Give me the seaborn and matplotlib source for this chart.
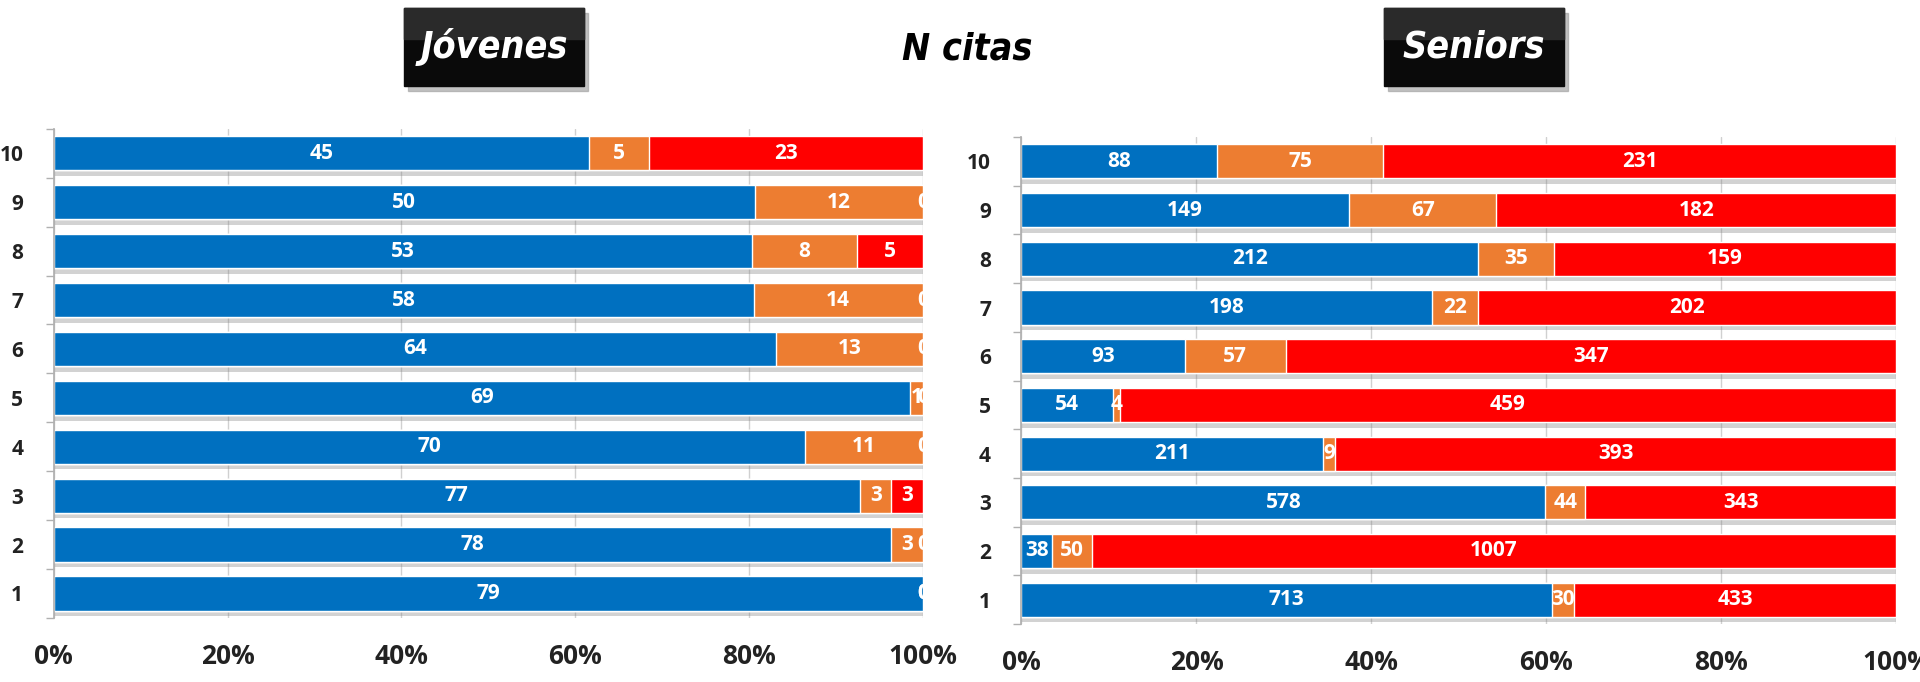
import numpy as np
import pandas as pd
import matplotlib
matplotlib.use("Agg")
import matplotlib.pyplot as plt
import matplotlib.patheffects as pe
from matplotlib.patches import Rectangle
from matplotlib.ticker import FuncFormatter, FixedLocator
import seaborn as sns

# datos
categorias = ["10", "9", "8", "7", "6", "5", "4", "3", "2", "1"]
jovenes_azul = [45, 50, 53, 58, 64, 69, 70, 77, 78, 79]
jovenes_naranja = [5, 12, 8, 14, 13, 1, 11, 3, 3, 0]
jovenes_rojo = [23, 0, 5, 0, 0, 0, 0, 3, 0, 0]
seniors_azul = [88, 149, 212, 198, 93, 54, 211, 578, 38, 713]
seniors_naranja = [75, 67, 35, 22, 57, 4, 9, 44, 50, 30]
seniors_rojo = [231, 182, 159, 202, 347, 459, 393, 343, 1007, 433]
ticks_pct = [0, 20, 40, 60, 80, 100]

AZUL = "#0070C0"
NARANJA = "#ED7D31"
ROJO = "#FF0000"

sns.set_theme(style="white")
plt.rcParams['font.family'] = ['Open Sans', 'DejaVu Sans']
plt.rcParams['font.weight'] = 'bold'


def dibujar_panel(ax, azul, naranja, rojo):
    df = pd.DataFrame({"cat": categorias, "azul": azul, "naranja": naranja, "rojo": rojo})
    total = df[["azul", "naranja", "rojo"]].sum(axis=1)
    df["p_azul"] = df["azul"] / total * 100
    df["p_naranja"] = df["naranja"] / total * 100
    df["p_rojo"] = df["rojo"] / total * 100
    df["c1"] = df["p_azul"]
    df["c2"] = df["p_azul"] + df["p_naranja"]
    df["c3"] = df["c2"] + df["p_rojo"]

    sombra = [pe.SimplePatchShadow(offset=(0, -4), shadow_rgbFace="#808080", alpha=0.35), pe.Normal()]
    for col, color in [("c3", ROJO), ("c2", NARANJA), ("c1", AZUL)]:
        sns.barplot(data=df, x=col, y="cat", order=categorias, orient="h", color=color,
                    saturation=1, width=0.7, ax=ax, errorbar=None)
    for i, bar in enumerate(ax.patches):
        if i < len(categorias):
            bar.set_path_effects(sombra)

    # etiquetas de valores
    for i, row in df.iterrows():
        inicio = 0
        for val, pct in [(row["azul"], row["p_azul"]), (row["naranja"], row["p_naranja"]),
                         (row["rojo"], row["p_rojo"])]:
            ax.text(inicio + pct / 2, i, f"{val:.0f}", ha="center", va="center", color="white",
                    fontsize=15, fontweight="bold", clip_on=True)
            inicio += pct

    ax.set_xlim(0, 100)
    ax.set_ylim(len(categorias) - 0.5, -0.5)
    ax.xaxis.set_major_locator(FixedLocator(ticks_pct))
    ax.xaxis.set_major_formatter(FuncFormatter(lambda v, p: f"{v:.0f}%"))
    ax.grid(axis="x", color="#d0d0d0", linewidth=1)
    ax.set_axisbelow(True)
    ax.set_xlabel("")
    ax.set_ylabel("")
    for s in ["top", "right", "bottom"]:
        ax.spines[s].set_visible(False)
    ax.spines["left"].set_color("#b0b0b0")
    ax.yaxis.set_minor_locator(FixedLocator(np.arange(-0.5, len(categorias), 1.0)))
    ax.tick_params(axis="y", which="minor", left=True, length=6, color="#b0b0b0")
    ax.tick_params(axis="y", which="major", left=False, pad=16, labelsize=15, labelcolor="#222222")
    ax.tick_params(axis="x", bottom=False, pad=12, labelsize=19, labelcolor="#222222")


fig = plt.figure(figsize=(19.2, 6.82), dpi=100)
ax1 = fig.add_axes([0.028, 0.094, 0.4526, 0.717])
ax2 = fig.add_axes([0.532, 0.085, 0.4557, 0.714])
dibujar_panel(ax1, jovenes_azul, jovenes_naranja, jovenes_rojo)
dibujar_panel(ax2, seniors_azul, seniors_naranja, seniors_rojo)

# títulos en cajas negras
titulo_font = ['DejaVu Sans']
for x0, texto in [(404, "Jóvenes"), (1384, "Seniors")]:
    fx, fy, fw, fh = x0 / 1920, 1 - 86 / 682, 180 / 1920, 78 / 682
    fig.patches.append(Rectangle((fx + 0.002, fy - 0.008), fw, fh, transform=fig.transFigure,
                                 color="#9a9a9a", alpha=0.6, zorder=1))
    fig.patches.append(Rectangle((fx, fy), fw, fh, transform=fig.transFigure,
                                 color="#0a0a0a", zorder=2))
    fig.patches.append(Rectangle((fx, fy + fh * 0.6), fw, fh * 0.4, transform=fig.transFigure,
                                 color="#2a2a2a", zorder=2))
    fig.text(fx + fw / 2, fy + fh / 2, texto, ha="center", va="center", color="white",
             fontsize=27, fontweight="bold", fontstyle="italic", fontstretch="condensed",
             family=titulo_font, zorder=3)

fig.text(967 / 1920, 1 - 49 / 682, "N citas", ha="center", va="center", color="black",
         fontsize=27, fontweight="bold", fontstyle="italic", fontstretch="condensed",
         family=titulo_font)

fig.savefig("out.png", dpi=100)
